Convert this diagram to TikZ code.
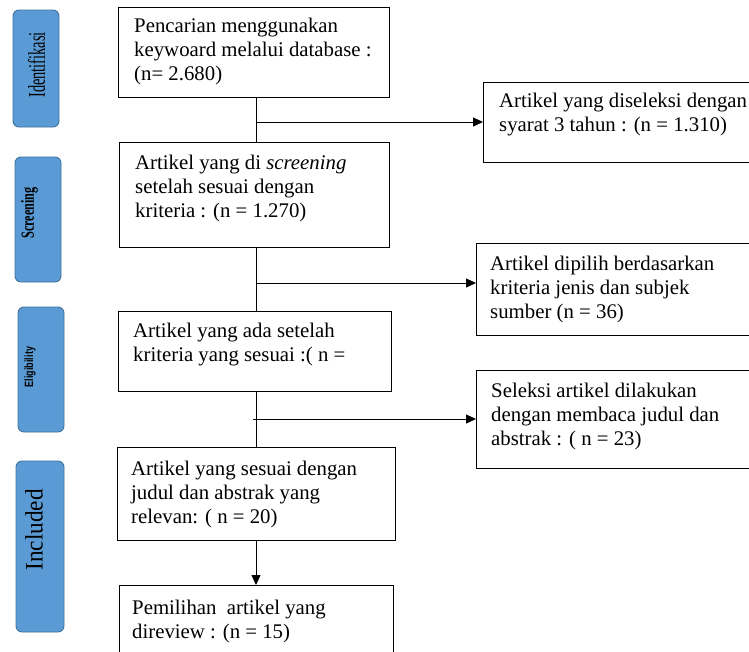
\documentclass[tikz,border=0pt]{standalone}
\usepackage{fontspec}
\setmainfont{Liberation Serif}
\newfontfamily\labsans{Liberation Sans}
\usetikzlibrary{arrows.meta}
\definecolor{sidefill}{HTML}{5B9BD5}
\definecolor{sidedraw}{HTML}{41719C}
\tikzset{
  box/.style={draw=black, line width=1.3pt, rectangle, inner sep=0pt, anchor=north west},
  side/.style={draw=sidedraw, fill=sidefill, line width=0.9pt, rounded corners=6pt},
  lab/.style={rotate=90, text=black, inner sep=0pt},
  txt/.style={anchor=north west, inner sep=0pt, align=left, font=\fontsize{20.8}{24}\selectfont},
  conn/.style={draw=black, line width=0.8pt},
  arr/.style={conn, -{Triangle[length=10pt,width=9pt]}},
}
\begin{document}
\begin{tikzpicture}[x=1pt,y=-1pt]
\useasboundingbox (0,0) rectangle (749,651);
\clip (0,0) rectangle (749,651);
\fill[white] (0,0) rectangle (749,651);

% sidebar stage boxes
\draw[side] (13,10) rectangle (59,127);
\draw[side] (15,157) rectangle (61,282);
\draw[side] (18,307) rectangle (64,432);
\draw[side] (16,461) rectangle (64,632);
% sidebar labels
\node[lab] (s1) at (36.5,65) {\fontsize{24}{24}\selectfont\scalebox{0.6}[1]{Identifikasi}};
\node[lab] (s2) at (29.5,213) {\fontsize{18.5}{18.5}\selectfont\bfseries\scalebox{0.66}[1]{Screening}};
\node[lab] (s3) at (30,367) {\labsans\fontsize{12}{12}\selectfont\bfseries\scalebox{0.75}[1]{Eligibility}};
\node[lab] (s4) at (34,530) {\fontsize{25}{25}\selectfont\scalebox{0.93}[1]{Included}};

% main boxes
\node[box, minimum width=271pt, minimum height=90pt] (b1) at (118,7) {};
\node[box, minimum width=270pt, minimum height=105pt] (b2) at (119,142) {};
\node[box, minimum width=273pt, minimum height=80pt] (b3) at (118,311) {};
\node[box, minimum width=278pt, minimum height=93pt] (b4) at (117,447) {};
\node[box, minimum width=274pt, minimum height=90pt] (b5) at (119,585) {};
\node[box, minimum width=290pt, minimum height=80pt] (r1) at (483,82) {};
\node[box, minimum width=290pt, minimum height=92pt] (r2) at (476,243) {};
\node[box, minimum width=290pt, minimum height=98pt] (r3) at (476,370) {};

% texts
\node[txt] (t1) at (134,15.2) {\strut Pencarian menggunakan\\keywoard melalui database :\\(n= 2.680)};
\node[txt] (t2) at (135,152.2) {\strut Artikel yang di \textit{screening}\\setelah sesuai dengan\\kriteria : (n = 1.270)};
\node[txt] (t3) at (133,320.2) {\strut Artikel yang ada setelah\\kriteria yang sesuai :( n =};
\node[txt] (t4) at (131,458.2) {\strut Artikel yang sesuai dengan\\judul dan abstrak yang\\relevan: ( n = 20)};
\node[txt] (t5) at (132,597.2) {\strut Pemilihan\ \ artikel yang\\direview : (n = 15)};
\node[txt] (u1) at (499,90.2) {\strut Artikel yang diseleksi dengan\\syarat 3 tahun : (n = 1.310)};
\node[txt] (u2) at (490,253.2) {\strut Artikel dipilih berdasarkan\\kriteria jenis dan subjek\\sumber (n = 36)};
\node[txt] (u3) at (491,380.2) {\strut Seleksi artikel dilakukan\\dengan membaca judul dan\\abstrak : ( n = 23)};

% junction coordinates on the trunk line
\coordinate (j1) at (256,122);
\coordinate (j2) at (256,283);
\coordinate (j3) at (253,419);

% trunk
\draw[conn] (b1.south -| j1) -- (b2.north -| j1);
\draw[conn] (b2.south -| j1) -- (b3.north -| j1);
\draw[conn] (b3.south -| j1) -- (b4.north -| j1);
\draw[arr] (b4.south -| j1) -- (b5.north -| j1);

% side arrows
\draw[arr] (j1) -- (j1 -| r1.west);
\draw[arr] (j2) -- (j2 -| r2.west);
\draw[arr] (j3) -- (j3 -| r3.west);
\end{tikzpicture}
\end{document}
